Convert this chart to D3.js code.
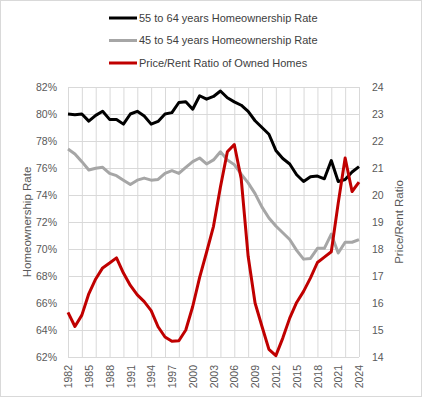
<!DOCTYPE html>
<html>
  <head>
    <script src="https://d3js.org/d3.v7.min.js"></script>
    <style>
      body { margin: 0; background: #fff; }
      svg { font-family: "Liberation Sans", Arial, sans-serif; }
      .grid line { stroke: #d9d9d9; stroke-width: 1; }
      .grid path { display: none; }
      .tick text { fill: #595959; }
    </style>
  </head>
  <body>
    <div id="chart"></div>
    <script>
      // data
      const years = d3.range(1982, 2025);
      const age55to64 = [80.0, 79.95, 80.0, 79.47, 79.9, 80.2, 79.6, 79.6, 79.25, 80.0,
        80.2, 79.85, 79.25, 79.45, 80.0, 80.1, 80.85, 80.9, 80.35, 81.35,
        81.1, 81.3, 81.7, 81.2, 80.9, 80.65, 80.2, 79.5, 79.0, 78.5,
        77.3, 76.7, 76.3, 75.5, 75.0, 75.35, 75.4, 75.2, 76.55, 75.0,
        75.15, 75.7, 76.1];
      const age45to54 = [77.4, 77.04, 76.47, 75.85, 75.98, 76.05, 75.6, 75.43, 75.1, 74.78,
        75.1, 75.25, 75.1, 75.15, 75.6, 75.8, 75.6, 76.05, 76.47, 76.74,
        76.3, 76.6, 77.2, 76.6, 76.25, 75.55, 74.9, 74.1, 73.1, 72.3,
        71.7, 71.2, 70.7, 69.9, 69.25, 69.3, 70.05, 70.05, 71.1, 69.7,
        70.5, 70.5, 70.7];
      const priceRent = [15.65, 15.13, 15.55, 16.34, 16.89, 17.3, 17.48, 17.67, 17.11, 16.65,
        16.3, 16.05, 15.72, 15.12, 14.74, 14.58, 14.6, 15.0, 15.87, 16.95,
        17.88, 18.84, 20.3, 21.6, 21.87, 20.6, 17.73, 16.0, 15.13, 14.28,
        14.05, 14.7, 15.44, 16.02, 16.43, 16.93, 17.5, 17.7, 17.9, 19.7,
        21.37, 20.13, 20.48];
      const leftTicks = [62, 64, 66, 68, 70, 72, 74, 76, 78, 80, 82];
      const rightTicks = [14, 15, 16, 17, 18, 19, 20, 21, 22, 23, 24];
      const yearLabels = d3.range(1982, 2025, 3);
      const yearGrid = d3.range(1982, 2025, 2);
      const series = [
        {name: "55 to 64 years Homeownership Rate", values: age55to64, axis: "left", color: "#000000"},
        {name: "45 to 54 years Homeownership Rate", values: age45to54, axis: "left", color: "#a6a6a6"},
        {name: "Price/Rent Ratio of Owned Homes", values: priceRent, axis: "right", color: "#c00000"}
      ];

      const W = 422, H = 397;
      const margin = {top: 87, right: 63, bottom: 40, left: 68};
      const width = W - margin.left - margin.right,
            height = H - margin.top - margin.bottom;

      const svg = d3.select("#chart").append("svg")
        .attr("width", W)
        .attr("height", H);

      svg.append("rect")
        .attr("x", 0.5).attr("y", 0.5)
        .attr("width", W - 1).attr("height", H - 1)
        .attr("fill", "#fff").attr("stroke", "#d9d9d9");

      const g = svg.append("g")
        .attr("transform", `translate(${margin.left},${margin.top})`);

      const x = d3.scaleLinear().domain([1982, 2024]).range([0, width]);
      const yL = d3.scaleLinear().domain([62, 82]).range([height, 0]);
      const yR = d3.scaleLinear().domain([14, 24]).range([height, 0]);

      // gridlines
      g.append("g").attr("class", "grid")
        .call(d3.axisLeft(yL).tickValues(leftTicks).tickSize(-width).tickFormat(""));
      g.append("g").attr("class", "grid")
        .attr("transform", `translate(0,${height})`)
        .call(d3.axisBottom(x).tickValues(yearGrid).tickSize(-height).tickFormat(""));

      // left axis labels
      const la = g.append("g")
        .call(d3.axisLeft(yL).tickValues(leftTicks).tickSize(0).tickPadding(11)
          .tickFormat(d => d + "%"));
      la.select(".domain").remove();
      la.selectAll("text").attr("font-size", 10.5).attr("font-family", "Liberation Sans");

      // right axis labels
      const ra = g.append("g")
        .attr("transform", `translate(${width},0)`)
        .call(d3.axisRight(yR).tickValues(rightTicks).tickSize(0).tickPadding(13));
      ra.select(".domain").remove();
      ra.selectAll("text").attr("font-size", 10.5).attr("font-family", "Liberation Sans");

      // bottom axis labels, rotated
      const ba = g.append("g")
        .attr("transform", `translate(0,${height})`)
        .call(d3.axisBottom(x).tickValues(yearLabels).tickSize(0).tickFormat(d3.format("d")));
      ba.select(".domain").remove();
      ba.selectAll("text")
        .attr("font-size", 10.5)
        .attr("font-family", "Liberation Sans")
        .attr("transform", "translate(0,8) rotate(-90)")
        .attr("dy", "0.35em")
        .attr("y", 0)
        .style("text-anchor", "end");

      // axis titles
      svg.append("text")
        .attr("transform", `translate(31,${margin.top + height / 2}) rotate(-90)`)
        .attr("text-anchor", "middle")
        .attr("font-size", 11.5)
        .attr("fill", "#595959")
        .text("Homeownership Rate");
      svg.append("text")
        .attr("transform", `translate(403,${margin.top + height / 2}) rotate(-90)`)
        .attr("text-anchor", "middle")
        .attr("font-size", 11.5)
        .attr("fill", "#595959")
        .text("Price/Rent Ratio");

      // lines
      series.forEach(s => {
        const yS = s.axis === "left" ? yL : yR;
        const line = d3.line()
          .x((d, i) => x(years[i]))
          .y(d => yS(d));
        g.append("path")
          .datum(s.values)
          .attr("fill", "none")
          .attr("stroke", s.color)
          .attr("stroke-width", 3)
          .attr("stroke-linejoin", "round")
          .attr("d", line);
      });

      // legend
      const legend = svg.append("g").attr("transform", "translate(109,18)");
      series.forEach((s, i) => {
        const row = legend.append("g").attr("transform", `translate(0,${i * 22.5})`);
        row.append("line")
          .attr("x1", 0).attr("x2", 28)
          .attr("stroke", s.color).attr("stroke-width", 3);
        row.append("text")
          .attr("x", 30).attr("dy", "0.35em")
          .attr("font-size", 11)
          .attr("fill", "#404040")
          .text(s.name);
      });
    </script>
  </body>
</html>
